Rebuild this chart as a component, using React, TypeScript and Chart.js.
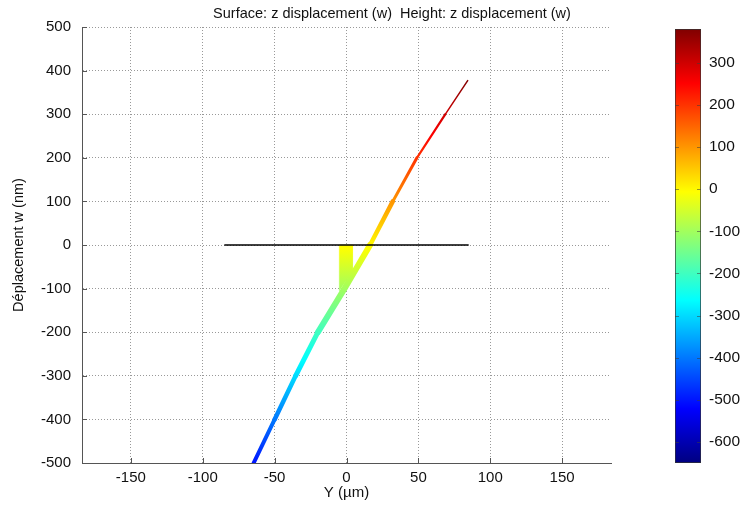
import React, { useEffect, useRef } from 'react';
import { Chart, registerables } from 'chart.js';

Chart.register(...registerables);

// ---------- data ----------
const titleText = 'Surface: z displacement (w)  Height: z displacement (w)';
const xAxisTitle = 'Y (µm)';
const yAxisTitle = 'Déplacement w (nm)';

const xTicks = [-150, -100, -50, 0, 50, 100, 150];
const yTicks = [-500, -400, -300, -200, -100, 0, 100, 200, 300, 400, 500];
const xMin = -184;
const xMax = 184;
const yMin = -500;
const yMax = 500;

// displaced profile (Y in µm, w in nm)
const profileX = [-64.6, -50, -35.4, -19.9, -1.4, 16.4, 32.2, 49, 68.8, 84.3];
const profileY = [-500, -400, -300, -200, -100, 0, 100, 200, 300, 377];

// step block under the support
const stepX = [-5, 4.2, 4.2, -5, -5];
const stepY = [0, 0, -60, -105, 0];

// undeformed reference line
const baseX = [-85, 85];
const baseY = [0, 0];

// colour bar
const colorMin = -650;
const colorMax = 380;
const colorbarTicks = [-600, -500, -400, -300, -200, -100, 0, 100, 200, 300];

// ---------- styles ----------
const segmentWidths = [4, 4.5, 5, 6, 6, 4.5, 3, 2.2, 1.5];
const jetStops: [number, string][] = [
  [0, '#000080'],
  [0.125, '#0000ff'],
  [0.375, '#00ffff'],
  [0.625, '#ffff00'],
  [0.875, '#ff0000'],
  [1, '#800000'],
];
const FONT = "'Liberation Sans', Arial, sans-serif";

function jetGradient(chart: any, scaleId: string): any {
  const s = chart.scales && chart.scales[scaleId];
  if (!s) return '#ffff00';
  const y0 = s.getPixelForValue(colorMin);
  const y1 = s.getPixelForValue(colorMax);
  if (!isFinite(y0) || !isFinite(y1)) return '#ffff00';
  const g = chart.ctx.createLinearGradient(0, y0, 0, y1);
  jetStops.forEach(([t, c]) => g.addColorStop(t, c));
  return g;
}

const zip = (xs: number[], ys: number[]) => xs.map((x, i) => ({ x, y: ys[i] }));

const innerTicks = {
  id: 'innerTicks',
  afterDraw(chart: any) {
    const { ctx, chartArea: a, scales } = chart;
    const x = scales.x;
    const y = scales.y;
    ctx.save();
    ctx.strokeStyle = '#555';
    ctx.lineWidth = 1;
    ctx.beginPath();
    x.ticks.forEach((t: any) => {
      const px = Math.round(x.getPixelForValue(t.value)) + 0.5;
      ctx.moveTo(px, a.bottom);
      ctx.lineTo(px, a.bottom - 5);
    });
    y.ticks.forEach((t: any) => {
      const py = Math.round(y.getPixelForValue(t.value)) + 0.5;
      ctx.moveTo(a.left, py);
      ctx.lineTo(a.left + 5, py);
    });
    ctx.stroke();
    ctx.restore();
  },
};

const topTitle = {
  id: 'topTitle',
  afterDraw(chart: any) {
    const { ctx } = chart;
    ctx.save();
    ctx.fillStyle = '#111';
    ctx.font = `14.5px ${FONT}`;
    ctx.textAlign = 'center';
    ctx.textBaseline = 'middle';
    ctx.fillText(titleText, 392, 14);
    ctx.restore();
  },
};

const barTicks = {
  id: 'barTicks',
  afterDraw(chart: any) {
    const { ctx, chartArea: a, scales } = chart;
    const y = scales.y;
    ctx.save();
    ctx.strokeStyle = 'rgba(60,60,60,0.55)';
    ctx.lineWidth = 1;
    ctx.beginPath();
    y.ticks.forEach((t: any) => {
      const py = Math.round(y.getPixelForValue(t.value)) + 0.5;
      ctx.moveTo(a.left, py);
      ctx.lineTo(a.left + 4, py);
      ctx.moveTo(a.right, py);
      ctx.lineTo(a.right - 4, py);
    });
    ctx.stroke();
    ctx.restore();
  },
};

export default function App() {
  const mainRef = useRef<HTMLCanvasElement>(null);
  const barRef = useRef<HTMLCanvasElement>(null);

  useEffect(() => {
    const gridCommon = {
      color: '#999',
      lineWidth: 1,
      drawTicks: false,
    };
    const main = new Chart(mainRef.current as HTMLCanvasElement, {
      type: 'scatter',
      data: {
        datasets: [
          {
            data: zip(baseX, baseY),
            showLine: true,
            borderColor: '#000',
            borderWidth: 1.5,
            pointRadius: 0,
          },
          {
            data: zip(stepX, stepY),
            showLine: true,
            fill: 'shape',
            backgroundColor: (c: any) => jetGradient(c.chart, 'y'),
            borderColor: (c: any) => jetGradient(c.chart, 'y'),
            borderWidth: 0.5,
            pointRadius: 0,
          },
          {
            data: zip(profileX, profileY),
            showLine: true,
            borderColor: (c: any) => jetGradient(c.chart, 'y'),
            borderCapStyle: 'round',
            borderJoinStyle: 'round',
            segment: {
              borderWidth: (ctx: any) => segmentWidths[ctx.p0DataIndex] ?? 2,
            },
            pointRadius: 0,
          },
        ] as any,
      },
      options: {
        responsive: false,
        animation: false,
        layout: { padding: { left: 0, top: 27, right: 29, bottom: 0 } },
        plugins: { legend: { display: false }, tooltip: { enabled: false }, title: { display: false } },
        scales: {
          x: {
            type: 'linear',
            min: xMin,
            max: xMax,
            afterBuildTicks: (s: any) => {
              s.ticks = xTicks.map((v) => ({ value: v }));
            },
            afterFit: (s: any) => {
              s.height = 46;
            },
            grid: gridCommon,
            border: { display: true, color: '#555', width: 1, dash: [1, 2] },
            ticks: { color: '#111', padding: 6, font: { family: FONT, size: 15 }, maxRotation: 0 },
            title: {
              display: true,
              text: xAxisTitle,
              color: '#111',
              font: { family: FONT, size: 15 },
              padding: { top: 0, bottom: 7 },
            },
          },
          y: {
            type: 'linear',
            min: yMin,
            max: yMax,
            afterBuildTicks: (s: any) => {
              s.ticks = yTicks.map((v) => ({ value: v }));
            },
            afterFit: (s: any) => {
              s.width = 82;
            },
            grid: gridCommon,
            border: { display: true, color: '#555', width: 1, dash: [1, 2] },
            ticks: { color: '#111', padding: 11, font: { family: FONT, size: 15 } },
            title: {
              display: true,
              text: yAxisTitle,
              color: '#111',
              font: { family: FONT, size: 14.5 },
              padding: { top: 10, bottom: 0 },
            },
          },
        },
      } as any,
      plugins: [innerTicks, topTitle],
    });

    const bar = new Chart(barRef.current as HTMLCanvasElement, {
      type: 'bar',
      data: {
        labels: ['w'],
        datasets: [
          {
            data: [[colorMin, colorMax]],
            backgroundColor: (c: any) => jetGradient(c.chart, 'y'),
            borderColor: '#333',
            borderWidth: 1,
            borderSkipped: false,
            barPercentage: 1,
            categoryPercentage: 1,
          },
        ] as any,
      },
      options: {
        responsive: false,
        animation: false,
        layout: { padding: { left: 35, top: 29, right: 0, bottom: 46 } },
        plugins: { legend: { display: false }, tooltip: { enabled: false } },
        scales: {
          x: { display: false },
          y: {
            position: 'right',
            min: colorMin,
            max: colorMax,
            afterBuildTicks: (s: any) => {
              s.ticks = colorbarTicks.map((v) => ({ value: v }));
            },
            afterFit: (s: any) => {
              s.width = 44;
            },
            grid: { display: false, drawTicks: false },
            border: { display: false },
            ticks: { color: '#111', padding: 8, font: { family: FONT, size: 15.5 } },
          },
        },
      } as any,
      plugins: [barTicks],
    });

    return () => {
      main.destroy();
      bar.destroy();
    };
  }, []);

  return (
    <div style={{ position: 'absolute', left: 0, top: 0, width: 745, height: 509, background: '#fff' }}>
      <canvas ref={mainRef} width={640} height={509} style={{ position: 'absolute', left: 0, top: 0 }} />
      <canvas ref={barRef} width={105} height={509} style={{ position: 'absolute', left: 640, top: 0 }} />
    </div>
  );
}
